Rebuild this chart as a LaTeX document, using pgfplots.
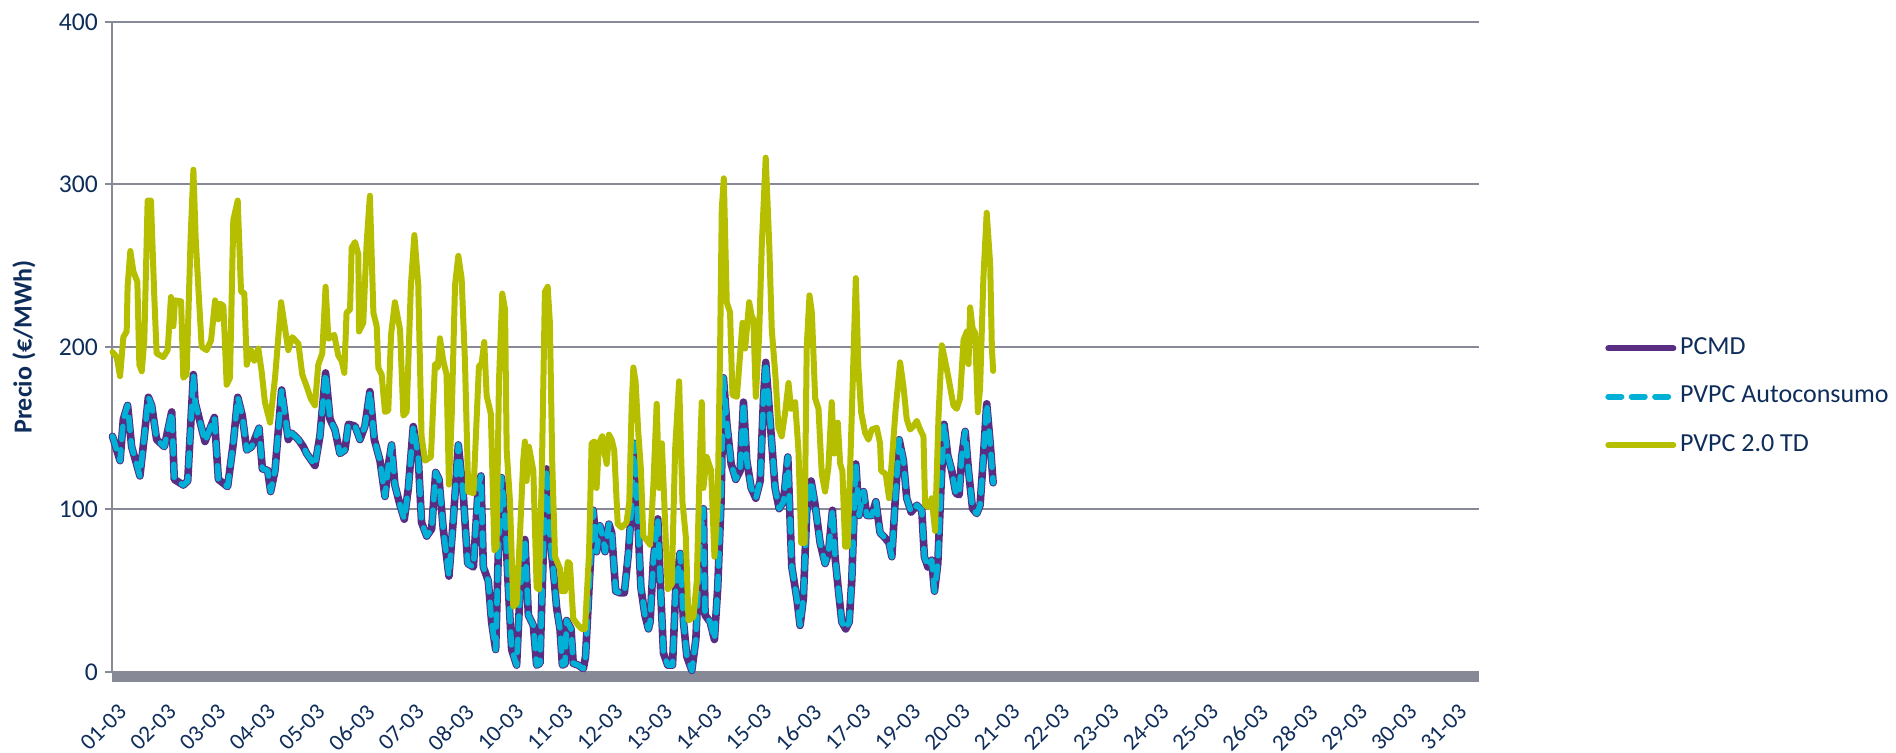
\documentclass[border=0pt]{standalone}
\usepackage{fontspec}
\setmainfont{Carlito}
\usepackage{pgfplots}
\pgfplotsset{compat=1.18}
\usepackage{pgfplotstable}
\definecolor{navy}{HTML}{0F2D5A}
\definecolor{gridg}{HTML}{878A96}
\definecolor{pcmdc}{HTML}{582D82}
\definecolor{autoc}{HTML}{00B0D6}
\definecolor{tdc}{HTML}{B6BE00}

% hour index (0 = 01-03 00:00), price in EUR/MWh
\pgfplotstableread{
h pcmd auto
0.5 145 145
4.6 130 130
6.4 155.6 155.6
8.7 164 164
10.9 138.6 138.6
15.4 120.6 120.6
17.8 145 145
20.0 169 169
21.8 164 164
24.5 143 143
28.7 138.6 138.6
32.7 160 160
34.1 118.5 118.5
39.0 115 115
41.4 117.5 117.5
44.5 183 183
45.4 166 166
50.8 141.8 141.8
55.9 156.6 156.6
58.1 118.5 118.5
63.1 114 114
66.2 140.7 140.7
68.6 169 169
71.1 157.7 157.7
73.5 136.5 136.5
76.2 138.6 138.6
80.2 150 150
82.0 125 125
84.9 124 124
86.5 111 111
88.9 124 124
92.5 173.5 173.5
96.1 143 143
97.9 147 147
101.6 143 143
104.3 138.6 138.6
106.1 134.4 134.4
110.6 127 127
113.3 145 145
116.4 184 184
118.8 155.6 155.6
121.5 149 149
124.2 134.4 134.4
126.9 136.5 136.5
128.8 152.4 152.4
132.4 151.3 151.3
135.1 143 143
137.8 151.3 151.3
140.5 172.5 172.5
142.9 143 143
146.0 130 130
148.7 108 108
150.5 127 127
152.3 139.7 139.7
154.1 115 115
156.9 102.6 102.6
159.2 94 94
161.4 113 113
164.1 151 151
166.8 132 132
168.6 92 92
171.4 83.6 83.6
174.1 88 88
176.3 122.8 122.8
178.1 118.5 118.5
180.4 88 88
183.5 59 59
185.9 94 94
188.6 139.7 139.7
191.3 109 109
193.7 66.7 66.7
196.8 64.6 64.6
199.5 115 115
200.9 120.6 120.6
202.2 64.6 64.6
204.9 56 56
206.7 30.7 30.7
208.9 13.8 13.8
210.3 70.9 70.9
212.1 119.6 119.6
214.0 94.2 94.2
215.8 51.9 51.9
217.6 13.8 13.8
220.3 4.2 4.2
222.1 47.6 47.6
224.8 81.5 81.5
226.7 35 35
229.4 28.6 28.6
231.2 4.2 4.2
233.0 5.3 5.3
234.8 73 73
236.6 124.9 124.9
238.4 83.6 83.6
240.3 62.4 62.4
242.1 39.2 39.2
243.9 26.5 26.5
245.2 4.2 4.2
246.6 5 5
247.5 31.7 31.7
249.9 26.5 26.5
251.1 5.3 5.3
253.9 4.2 4.2
256.6 2 2
257.8 9.5 9.5
259.7 51.9 51.9
262.0 99.5 99.5
263.8 74 74
265.6 90 90
267.5 81.5 81.5
268.4 74 74
270.5 91 91
272.0 85.7 85.7
274.2 49.7 49.7
276.5 48.7 48.7
278.9 48.7 48.7
281.1 73 73
282.9 102.6 102.6
284.3 140.7 140.7
285.6 109 109
287.9 51.9 51.9
290.1 35 35
292.0 26.5 26.5
292.9 30.7 30.7
294.7 68.8 68.8
297.1 94.2 94.2
298.4 56 56
300.2 11.6 11.6
302.5 4.2 4.2
305.1 4.2 4.2
306.9 51.9 51.9
309.2 73 73
311.1 30.7 30.7
312.9 9.5 9.5
315.6 1 1
317.8 20 20
320.1 79.4 79.4
321.9 100.5 100.5
322.8 35 35
325.6 30.7 30.7
327.9 20 20
329.7 51.9 51.9
331.5 104.8 104.8
332.8 181 181
334.6 153.4 153.4
337.0 128 128
339.5 118.5 118.5
341.9 123.8 123.8
343.7 166 166
345.5 130 130
347.9 113.2 113.2
350.4 106.9 106.9
352.8 117.5 117.5
354.6 168.3 168.3
355.8 190.5 190.5
357.7 162 162
359.1 140.7 140.7
360.9 113.2 113.2
363.1 100.5 100.5
365.5 104.8 104.8
367.8 132.3 132.3
370.0 64.6 64.6
372.7 45.5 45.5
374.5 28.6 28.6
376.3 45.5 45.5
378.1 98.4 98.4
380.5 117.5 117.5
382.7 102.6 102.6
385.4 79.4 79.4
388.1 66.7 66.7
389.9 73 73
392.1 99.5 99.5
393.5 70.9 70.9
395.4 49.7 49.7
397.2 30.7 30.7
399.3 26.5 26.5
401.2 30.7 30.7
402.6 56 56
404.8 128 128
406.6 96.3 96.3
409.0 111 111
410.8 96.3 96.3
413.5 96.3 96.3
415.7 104.8 104.8
418.0 85.7 85.7
420.7 82.5 82.5
422.9 79.4 79.4
424.4 70.9 70.9
426.2 104.8 104.8
428.4 142.9 142.9
430.7 130 130
432.5 106.9 106.9
434.9 98.4 98.4
438.0 102.6 102.6
440.7 99.5 99.5
442.1 70.9 70.9
444.0 64.6 64.6
446.1 68.8 68.8
447.6 49.7 49.7
449.4 66.7 66.7
451.2 115.3 115.3
452.8 152.4 152.4
454.8 133.3 133.3
457.0 123.8 123.8
459.2 110 110
461.0 109 109
462.4 132.3 132.3
464.3 148 148
466.1 123.8 123.8
468.3 100.5 100.5
470.6 97.4 97.4
472.4 102.6 102.6
474.2 132.3 132.3
476.0 165 165
477.9 140.7 140.7
479.5 116.4 116.4
}\pcmdtable

\pgfplotstableread{
h td
0.5 196.8
2.8 193.7
4.6 182
6.4 206
8.2 209.5
8.7 237
10.2 259
11.8 246.6
14.0 240
15.1 189
16.4 185
17.8 204
19.6 290
21.4 290
23.2 231.7
24.5 196
28.1 193.7
30.5 198
32.3 230.7
33.6 212.7
34.5 228.6
37.8 228
39.0 181
40.8 183
43.0 267.7
44.5 309
45.7 267.7
47.2 236
49.0 200
51.7 198
54.1 204
56.3 228.6
58.1 217
59.0 226.5
60.8 225.4
62.6 176.7
64.4 181
66.2 278
68.6 290
70.4 234
72.2 233
73.5 189
75.8 198
77.6 191.5
79.8 199
81.6 185
83.4 166
86.2 153.4
88.9 181
92.2 227.5
96.1 198
98.3 206
101.6 202
103.7 183
106.1 175.7
108.4 168
110.6 164
112.4 189
114.6 196
116.4 237
117.9 205
121.1 207.4
123.3 194.7
125.1 191.5
126.6 184
127.8 221
129.7 223
130.6 261
132.4 264.5
134.2 257
134.6 209.5
136.9 214.8
138.7 263.5
140.5 293
142.4 221
144.2 212.7
145.1 187
146.9 183
148.7 160
150.5 160.8
152.0 207.4
154.1 227.5
156.9 210.6
158.7 157.7
160.5 160
162.8 238
164.7 268.8
166.8 238
168.6 145
170.5 130
173.7 132.3
175.9 189.4
177.4 187.3
178.6 205.3
180.4 191.5
182.2 183
183.5 115.3
185.0 157.7
186.8 238
188.6 256
190.4 242
192.2 191.5
194.0 111
196.8 110
199.8 188
201.3 190
202.7 203
204.0 170
206.3 158.7
208.2 75
209.4 77
210.7 178.8
212.5 232.8
214.0 223
214.9 136.5
216.7 104.8
218.5 40.2
220.3 42.3
222.1 83.6
223.9 130
224.8 141.8
225.7 117.5
227.0 138.6
229.4 123.8
231.2 51.9
232.5 50.8
233.9 115.3
235.7 233.9
237.2 237
238.4 214.8
239.7 128
241.2 70.9
243.9 63.5
244.8 49.7
246.6 49.7
248.1 67.7
249.3 66.7
251.1 32.8
253.9 28.6
255.7 26.5
257.5 26.5
259.7 73
261.1 140.7
262.6 141.8
263.8 113.2
265.1 140.7
266.9 145
268.0 135.4
269.3 128
270.5 146
272.0 142.9
273.4 136.5
275.3 91
277.4 88.9
280.1 92
281.6 104.8
282.9 164
283.8 187.3
285.0 178.8
286.5 147
287.9 124.9
289.2 83.6
291.6 80.4
292.9 78.3
294.7 115.3
296.5 165
297.8 113.2
299.3 140.7
300.7 102.6
302.5 50.8
304.7 54
306.5 136.5
308.7 178.8
310.5 104.8
312.3 83.6
313.8 31.7
316.5 33.9
318.3 56
320.1 135.4
321.0 166
321.9 113.2
323.7 132.3
326.1 123.8
327.9 70.9
329.7 104.8
331.0 200
331.9 284.7
333.0 303.7
334.6 227.5
336.4 221.2
337.7 170.4
340.1 169.3
341.9 195.8
343.2 214.8
344.6 199
346.8 227.5
348.2 219
349.1 217
350.4 169.3
352.2 206.3
353.7 263.5
355.8 316.4
357.7 263.5
359.1 210.6
361.3 178.8
362.7 150.3
364.5 145
366.4 159.8
368.2 177.8
369.6 161.9
371.8 166
373.6 136.5
375.1 79.4
376.9 79.4
378.1 200
379.6 231.7
380.9 221.2
382.7 168.3
384.5 162
386.3 121.7
388.1 111
389.9 126
391.7 166
393.0 134.4
395.0 153.4
396.3 128
397.5 123.8
399.0 77.2
400.4 77.2
402.6 157.7
404.8 242.3
406.2 187.3
407.7 159.8
409.9 147
411.7 142.9
413.5 149.2
416.2 150.3
418.0 140.7
418.6 123.8
421.1 121.7
422.9 106.9
424.4 130
426.5 161.9
428.9 190.5
430.7 175.7
432.5 155.6
434.3 149.2
436.2 151.3
438.0 154.5
439.8 149.2
441.6 145
442.5 102.6
444.3 101.6
446.1 106.9
447.9 86.8
449.8 157.7
451.6 201
453.0 193.7
455.2 181
457.9 164
459.7 161.9
461.5 168.3
463.4 204.2
465.2 209.5
466.1 189.4
467.0 224.3
468.3 211.6
469.7 208.5
471.2 159.8
472.4 174.6
474.2 242.3
476.0 282.5
477.9 250.8
478.8 200
479.5 185.2
}\tdtable

\begin{document}
\begin{tikzpicture}[font=\fontsize{12.8}{15}\selectfont]
\useasboundingbox (-55.8pt,-40.5pt) rectangle (892.2pt,336pt);
\begin{axis}[
  at={(0,0)}, anchor=south west,
  scale only axis, width=683.9pt, height=325.1pt,
  xmin=0, xmax=744, ymin=0, ymax=400,
  clip=false,
  axis x line*=bottom, axis y line*=left,
  x axis line style={draw=none},
  y axis line style={gridg, line width=1pt},
  ytick={0,100,200,300,400},
  ymajorgrids, grid style={gridg, line width=1pt},
  tick align=outside, major tick length=3.5pt,
  ytick style={gridg, line width=1pt},
  xtick style={draw=none},
  % label anchors: one label every 27 hours, offset to the text end
  xtick={6.05,33.05,...,735.05},
  xticklabels={01-03,02-03,03-03,04-03,05-03,06-03,07-03,08-03,10-03,11-03,12-03,13-03,14-03,15-03,16-03,17-03,19-03,20-03,21-03,22-03,23-03,24-03,25-03,26-03,28-03,29-03,30-03,31-03},
  xticklabel shift=14.5pt,
  xticklabel style={rotate=45, anchor=east, inner sep=0pt, text=navy, font=\fontsize{11.6}{14}\selectfont},
  yticklabel style={anchor=east, inner sep=0pt, xshift=-3.2pt, text=navy},
  /pgf/number format/assume math mode=true,
  ylabel={Precio (€/MWh)},
  every axis y label/.style={at={(axis description cs:0,0.5)}, xshift=-43.8pt, rotate=90, anchor=center, font=\fontsize{13}{15}\selectfont\bfseries, text=navy},
  legend style={draw=none, fill=none, inner sep=0pt, outer sep=0pt, at={(axis description cs:1.0893,0.4234)}, anchor=west,
    font=\fontsize{13}{15}\selectfont, text=navy,
    nodes={inner sep=0pt, text height=9pt, text depth=3pt},
    row sep=12.2pt, column sep=0pt},
  legend cell align=left,
  legend image code/.code={\path (0pt,0pt) (35.5pt,0pt); \draw[#1, line width=3pt, line cap=round] (1.5pt,0pt) -- (34pt,0pt);},
]
\fill[gridg] (axis cs:0,0) rectangle ([yshift=-5pt]axis cs:744,0);
\addplot[pcmdc, line width=3.8pt, line join=round, line cap=round] table[x=h, y=pcmd] {\pcmdtable};
\addlegendentry{PCMD}
\addplot[autoc, line width=2.8pt, line join=round, line cap=round, dash pattern=on 6.5pt off 5.2pt] table[x=h, y=auto] {\pcmdtable};
\addlegendentry{PVPC Autoconsumo}
\addplot[tdc, line width=3pt, line join=round, line cap=round] table[x=h, y=td] {\tdtable};
\addlegendentry{PVPC 2.0 TD}
\end{axis}
\end{tikzpicture}
\end{document}
